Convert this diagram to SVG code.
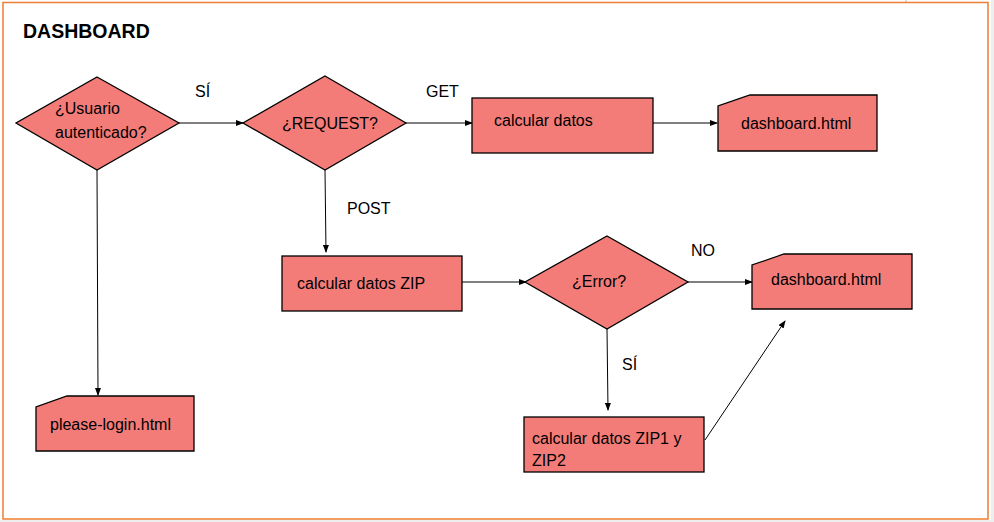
<svg xmlns="http://www.w3.org/2000/svg" width="994" height="522" viewBox="0 0 994 522">
<style>
.n{fill:#F47C78;stroke:#000;stroke-width:1.3}
.t{font-family:"Liberation Sans",Arial,sans-serif;font-size:16px;fill:#000}
.l{font-family:"Liberation Sans",Arial,sans-serif;font-size:16px;fill:#000}
.c{fill:none;stroke:#000;stroke-width:1}
</style>
<defs>
<marker id="a" markerWidth="8" markerHeight="6" refX="7" refY="3" orient="auto" markerUnits="userSpaceOnUse">
<path d="M0,0 L8,3 L0,6 Z" fill="#000"/>
</marker>
</defs>
<rect x="0" y="0" width="994" height="522" fill="#fff"/>
<rect x="0" y="520" width="994" height="2" fill="#eeeeee"/>
<rect x="991" y="0" width="3" height="522" fill="#eeeeee"/>
<line x1="906" y1="0" x2="906" y2="2" stroke="#bbb" stroke-width="1"/>
<rect x="3" y="2.5" width="985" height="516.5" fill="none" stroke="#ED7D31" stroke-width="1.5"/>
<text x="23" y="38" font-family="'Liberation Sans',Arial,sans-serif" font-size="19.5" font-weight="bold">DASHBOARD</text>

<g id="connectors">
<line class="c" x1="179" y1="123" x2="243" y2="123" marker-end="url(#a)"/>
<line class="c" x1="406" y1="123" x2="472" y2="123" marker-end="url(#a)"/>
<line class="c" x1="653" y1="123" x2="717" y2="123" marker-end="url(#a)"/>
<line class="c" x1="97" y1="170" x2="98" y2="395" marker-end="url(#a)"/>
<line class="c" x1="325" y1="170" x2="326" y2="252" marker-end="url(#a)"/>
<line class="c" x1="462" y1="282" x2="526" y2="282" marker-end="url(#a)"/>
<line class="c" x1="688" y1="282" x2="752" y2="282" marker-end="url(#a)"/>
<line class="c" x1="607" y1="329" x2="608" y2="410" marker-end="url(#a)"/>
<line class="c" x1="705" y1="440" x2="785" y2="321" marker-end="url(#a)"/>
<text class="l" x="195" y="97">SÍ</text>
<text class="l" x="426" y="97">GET</text>
<text class="l" x="347" y="214">POST</text>
<text class="l" x="691" y="256">NO</text>
<text class="l" x="622" y="370">SÍ</text>
</g>

<g id="usuario">
<polygon class="n" points="97,77 179,123 97,170 16,123"/>
<text class="t" x="55" y="114">¿Usuario</text>
<text class="t" x="55" y="138">autenticado?</text>
</g>
<g id="request">
<polygon class="n" points="325,76 406,123 325,170 243,123"/>
<text class="t" x="282" y="129">¿REQUEST?</text>
</g>
<g id="calcular">
<rect class="n" x="472" y="98" width="181" height="55"/>
<text class="t" x="494" y="126">calcular datos</text>
</g>
<g id="dashboard1">
<polygon class="n" points="750,95 877,95 877,151 718,151 718,106"/>
<text class="t" x="741" y="129">dashboard.html</text>
</g>
<g id="login">
<polygon class="n" points="67,396 194,396 194,451 36,451 36,407"/>
<text class="t" x="50" y="430">please-login.html</text>
</g>
<g id="zip">
<rect class="n" x="282" y="256" width="180" height="55"/>
<text class="t" x="297" y="289">calcular datos ZIP</text>
</g>
<g id="error">
<polygon class="n" points="607,236 688,282 607,329 525,282"/>
<text class="t" x="572" y="287">¿Error?</text>
</g>
<g id="dashboard2">
<polygon class="n" points="784,254 912,254 912,309 752,309 752,265"/>
<text class="t" x="771" y="285">dashboard.html</text>
</g>
<g id="zip12">
<rect class="n" x="524" y="417" width="180" height="55"/>
<text class="t" x="532" y="444">calcular datos ZIP1 y</text>
<text class="t" x="532" y="466">ZIP2</text>
</g>
</svg>
